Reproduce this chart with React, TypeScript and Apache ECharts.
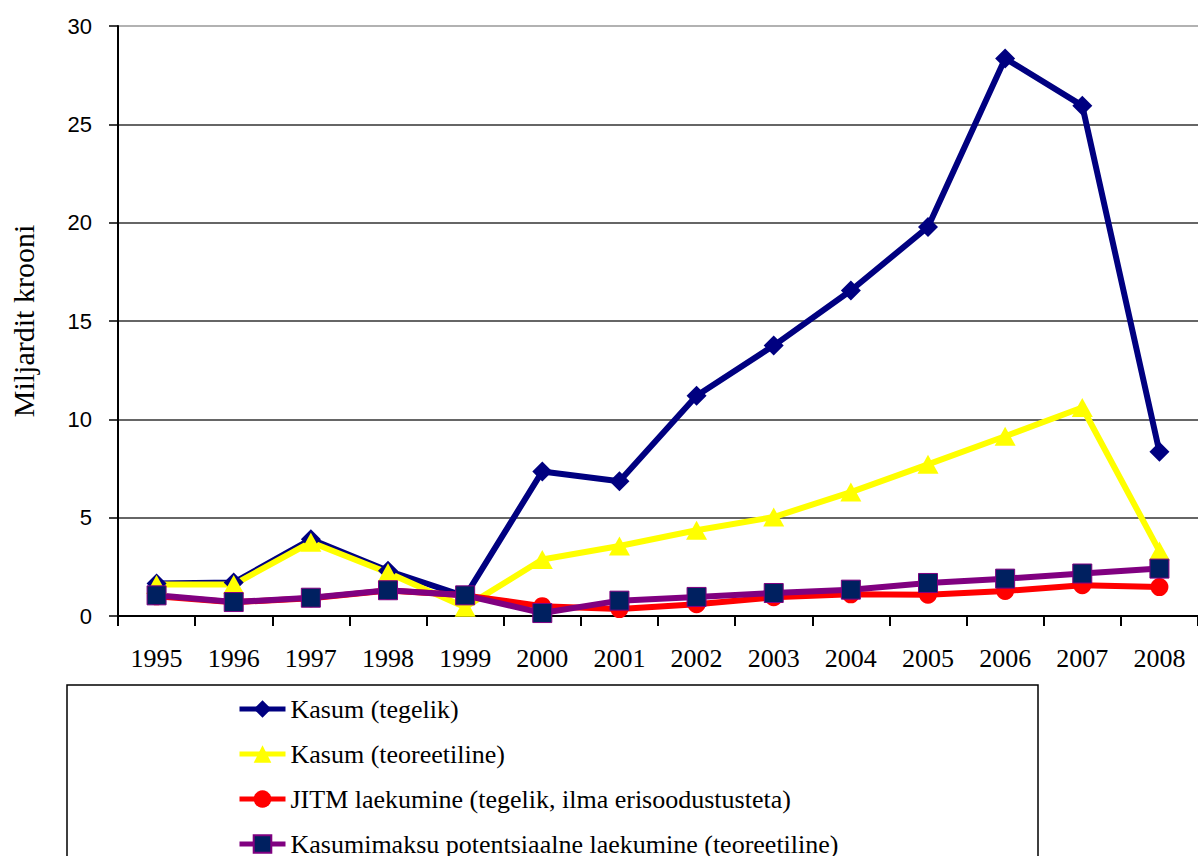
import React, { useEffect, useRef } from "react";
import * as echarts from "echarts";

const years = ["1995","1996","1997","1998","1999","2000","2001","2002","2003","2004","2005","2006","2007","2008"];
const kasumTegelik = [1.65, 1.7, 3.9, 2.3, 1.0, 7.35, 6.85, 11.2, 13.75, 16.55, 19.78, 28.35, 25.95, 8.35];
const kasumTeoreetiline = [1.6, 1.6, 3.75, 2.2, 0.45, 2.87, 3.56, 4.36, 5.03, 6.3, 7.71, 9.14, 10.6, 3.3];
const jitmLaekumine = [1.0, 0.7, 0.9, 1.3, 1.05, 0.5, 0.35, 0.6, 0.95, 1.1, 1.08, 1.27, 1.56, 1.47];
const potentsiaalne = [1.05, 0.71, 0.93, 1.31, 1.05, 0.15, 0.78, 0.97, 1.17, 1.34, 1.68, 1.9, 2.16, 2.41];
const seriesNames = [
  "Kasum (tegelik)",
  "Kasum (teoreetiline)",
  "JITM laekumine (tegelik, ilma erisoodustusteta)",
  "Kasumimaksu potentsiaalne laekumine (teoreetiline)",
];
const yTitle = "Miljardit krooni";

export default function App() {
  const ref = useRef<HTMLDivElement>(null);
  useEffect(() => {
    if (!ref.current) return;
    const chart = echarts.init(ref.current, undefined, { renderer: "svg" });
    const serif = "Liberation Serif";
    const sans = "Liberation Sans";
    const mkSeries = (i: number, data: number[], symbol: string, size: any, line: string, fill: string, border?: string) => ({
      name: seriesNames[i],
      type: "line",
      data,
      symbol,
      symbolSize: size,
      showAllSymbol: true,
      color: line,
      lineStyle: { color: line, width: 6, type: "solid" },
      itemStyle: border ? { color: fill, borderColor: border, borderWidth: 1 } : { color: fill },
    });
    chart.setOption({
      animation: false,
      backgroundColor: "#ffffff",
      textStyle: { fontFamily: serif },
      grid: { left: 116, top: 26, width: 1092, height: 590 },
      graphic: [
        {
          type: "rect",
          shape: { x: 67, y: 685, width: 971, height: 220 },
          style: { fill: "none", stroke: "#000", lineWidth: 1.5 },
          z: 0,
        },
      ],
      legend: {
        orient: "vertical",
        left: 237,
        top: 696,
        width: 800,
        height: 300,
        itemWidth: 46,
        itemHeight: 22,
        itemGap: 19,
        padding: 0,
        lineStyle: { width: 5 },
        textStyle: { fontFamily: serif, fontSize: 26, color: "#000" },
        data: seriesNames,
      },
      xAxis: {
        type: "category",
        data: years,
        boundaryGap: true,
        axisLine: { lineStyle: { color: "#000", width: 2 } },
        axisTick: { show: true, length: 10, lineStyle: { color: "#000", width: 2 } },
        axisLabel: { fontFamily: serif, fontSize: 26, color: "#000", margin: 29 },
        splitLine: { show: false },
      },
      yAxis: {
        type: "value",
        min: 0,
        max: 30,
        interval: 5,
        name: yTitle,
        nameLocation: "middle",
        nameGap: 80,
        nameRotate: 90,
        nameTextStyle: { fontFamily: serif, fontSize: 30, color: "#000" },
        axisLine: { show: true, lineStyle: { color: "#000", width: 2 } },
        axisTick: { show: true, length: 9, lineStyle: { color: "#000", width: 1.5 } },
        axisLabel: { fontFamily: sans, fontSize: 22, color: "#000", margin: 26 },
        splitLine: {
          show: true,
          lineStyle: {
            color: ["#333", "#333", "#333", "#333", "#333", "#333", "#999"],
            width: 1.5,
          },
        },
      },
      series: [
        mkSeries(0, kasumTegelik, "diamond", 20, "#000080", "#000080"),
        mkSeries(1, kasumTeoreetiline, "triangle", [21, 19], "#ffff00", "#ffff00"),
        mkSeries(2, jitmLaekumine, "circle", 18, "#ff0000", "#ff0000"),
        mkSeries(3, potentsiaalne, "rect", 19, "#800080", "#002060", "#800080"),
      ],
    });
    return () => chart.dispose();
  }, []);
  return (
    <div
      ref={ref}
      style={{ position: "fixed", left: 0, top: 0, width: 1198, height: 856, background: "#fff" }}
    />
  );
}
